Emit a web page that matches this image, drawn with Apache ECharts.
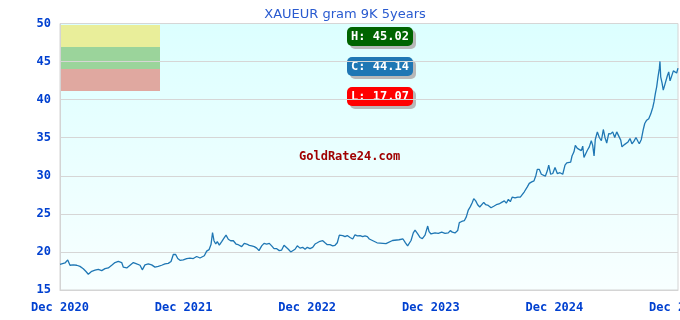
<!DOCTYPE html>
<html>
<head>
<meta charset="utf-8">
<script src="https://cdn.jsdelivr.net/npm/echarts@6/dist/echarts.min.js"></script>
<style>html,body{margin:0;padding:0;background:#fff}#c{width:680px;height:320px}</style>
</head>
<body>
<div id="c"></div>
<script>
const chartTitle = 'XAUEUR gram 9K 5years';
const tickLabels = ['Dec 2020', 'Dec 2021', 'Dec 2022', 'Dec 2023', 'Dec 2024', 'Dec 2025'];
// months elapsed since Dec 2020
const months = [
 0.00,0.49,0.75,0.97,1.29,1.62,1.94,2.26,2.50,2.75,3.08,3.40,3.72,4.05,4.37,4.69,5.02,5.34,5.66,5.99,
 6.15,6.48,6.80,7.12,7.45,7.77,7.99,8.25,8.57,8.90,9.22,9.54,9.87,10.19,10.51,10.78,11.00,11.23,11.43,11.65,
 11.97,12.30,12.62,12.94,13.27,13.59,13.76,14.01,14.24,14.47,14.66,14.81,14.95,15.12,15.27,15.47,15.70,15.92,16.12,16.34,
 16.57,16.83,17.09,17.31,17.64,17.89,18.13,18.38,18.61,18.86,19.10,19.32,19.58,19.81,20.07,20.32,20.55,20.78,21.04,21.29,
 21.52,21.75,21.94,22.17,22.40,22.59,22.82,23.04,23.30,23.56,23.79,24.01,24.27,24.53,24.76,24.98,25.24,25.51,25.73,25.95,
 26.21,26.48,26.70,26.92,27.12,27.25,27.45,27.67,27.89,28.16,28.42,28.64,28.87,29.13,29.39,29.61,29.84,30.03,30.78,31.65,
 32.28,32.91,33.30,33.54,33.75,34.08,34.30,34.47,34.73,34.95,35.18,35.44,35.70,35.83,36.02,36.41,36.73,37.06,37.38,37.70,
 37.89,38.09,38.35,38.61,38.77,39.00,39.25,39.45,39.64,39.84,40.03,40.17,40.36,40.55,40.75,40.94,41.14,41.33,41.58,41.85,
 42.11,42.36,42.62,42.88,43.14,43.33,43.53,43.72,43.91,44.18,44.44,44.69,44.88,45.08,45.37,45.56,45.80,46.02,46.21,46.34,
 46.54,46.73,46.92,47.12,47.31,47.45,47.64,47.84,48.06,48.28,48.54,48.81,49.03,49.20,49.39,49.58,49.71,49.90,50.03,50.23,
 50.42,50.61,50.75,50.87,51.00,51.20,51.39,51.58,51.72,51.85,51.97,52.17,52.36,52.56,52.75,52.91,53.08,53.27,53.47,53.66,
 53.86,54.05,54.24,54.44,54.56,54.76,54.95,55.15,55.34,55.53,55.73,55.92,56.12,56.24,56.44,56.63,56.77,56.96,57.16,57.35,
 57.55,57.67,57.80,57.93,58.06,58.19,58.25,58.32,58.45,58.57,58.71,58.84,58.96,59.10,59.23,59.39,59.55,59.71,59.87,60.00
];
// price in EUR per gram
const prices = [
 18.38,18.55,18.95,18.25,18.30,18.25,18.10,17.80,17.46,17.07,17.46,17.60,17.72,17.55,17.80,17.90,18.25,18.60,18.75,18.60,
 18.00,17.90,18.25,18.60,18.42,18.25,17.65,18.30,18.42,18.30,18.00,18.10,18.25,18.42,18.50,18.75,19.66,19.66,19.13,18.90,
 18.95,19.13,19.20,19.13,19.40,19.20,18.95,19.50,20.10,20.30,20.97,22.55,21.47,21.04,21.35,20.90,21.35,21.80,22.20,21.66,
 21.47,21.47,21.04,20.95,20.70,21.13,21.04,20.87,20.80,20.70,20.50,20.17,20.80,21.13,21.04,21.13,20.80,20.43,20.43,20.17,
 20.25,20.87,20.95,20.35,20.00,19.90,20.35,20.80,20.50,20.60,20.35,20.60,20.43,20.60,21.04,21.20,21.40,21.47,21.20,20.95,
 20.95,20.80,20.87,21.20,22.20,22.00,22.15,22.00,22.15,21.90,21.70,22.25,22.10,22.15,22.00,22.10,22.00,21.70,21.20,21.10,
 21.50,21.60,21.70,21.20,20.80,21.50,22.50,22.85,22.36,21.90,21.75,22.20,23.40,22.66,22.36,22.50,22.45,22.60,22.45,22.50,
 22.80,22.60,22.50,22.80,23.85,24.00,24.10,24.60,25.50,25.95,26.50,27.00,26.70,26.20,25.90,26.10,26.50,26.20,26.10,25.80,
 26.00,26.20,26.30,26.50,26.70,26.40,26.90,26.60,27.20,27.10,27.20,27.20,27.45,27.90,28.55,29.00,29.20,29.33,30.08,30.83,
 30.83,30.20,30.20,29.95,30.65,31.40,30.20,30.30,31.10,30.30,30.40,30.20,31.40,31.70,31.80,31.80,32.60,33.15,34.00,33.60,
 33.70,33.30,33.90,32.40,32.15,33.35,33.80,34.60,34.00,32.60,34.77,35.77,35.03,34.60,36.08,35.03,34.30,35.55,35.50,35.77,
 35.03,35.77,35.60,34.68,33.80,34.06,34.10,34.45,34.90,34.20,34.55,35.03,34.50,34.20,34.77,36.08,36.87,37.30,37.50,38.10,
 38.97,39.70,40.80,41.68,43.00,44.10,45.02,43.00,42.20,41.25,41.90,41.68,43.10,43.65,42.47,42.60,43.78,43.78,43.50,44.14
];
const watermark = 'GoldRate24.com';

const hi = Math.max(...prices);
const lo = Math.min(...prices);
const cur = prices[prices.length - 1];

const chart = echarts.init(document.getElementById('c'), null, {renderer: 'canvas'});
const mono = '"DejaVu Sans Mono", monospace';

function badge(label, val, top, color) {
  return {
    type: 'group', left: 347, top: top,
    children: [
      {type: 'rect', shape: {x: 3, y: 3, width: 66, height: 19, r: 5}, style: {fill: '#b8b8b8'}},
      {type: 'rect', shape: {x: 0, y: 0, width: 66, height: 19, r: 5}, style: {fill: color}},
      {type: 'text', x: 33, y: 10, style: {text: label + ': ' + val.toFixed(2), fill: '#fff',
        font: 'bold 12px ' + mono, align: 'center', verticalAlign: 'middle'}}
    ]
  };
}

chart.setOption({
  animation: false,
  backgroundColor: '#ffffff',
  title: {
    text: chartTitle, left: 340, top: 3, textAlign: 'center',
    textStyle: {color: '#2a5bd0', fontSize: 13, fontWeight: 'normal', fontFamily: '"DejaVu Sans", sans-serif'}
  },
  grid: {
    left: 60, right: 2, top: 23.5, bottom: 30, show: true,
    containLabel: false, outerBoundsMode: 'none',
    borderColor: '#d4d4d4', borderWidth: 1,
    backgroundColor: new echarts.graphic.LinearGradient(0, 0, 0, 1, [
      {offset: 0, color: '#dcffff'}, {offset: 1, color: '#f8ffff'}
    ])
  },
  xAxis: {
    type: 'value', min: 0, max: 60, interval: 12,
    axisLine: {show: true, lineStyle: {color: '#d4d4d4'}},
    axisTick: {show: false},
    splitLine: {show: false},
    axisLabel: {
      color: '#0040d0', fontFamily: mono, fontWeight: 'bold', fontSize: 12, margin: 12,
      hideOverlap: false,
      formatter: v => tickLabels[Math.round(v / 12)] || ''
    }
  },
  yAxis: {
    type: 'value', min: 15, max: 50, interval: 5,
    axisLine: {show: true, lineStyle: {color: '#d4d4d4'}},
    axisTick: {show: false},
    splitLine: {show: true, lineStyle: {color: '#d6d6d6', width: 1}},
    axisLabel: {color: '#0040d0', fontFamily: mono, fontWeight: 'bold', fontSize: 12, margin: 9}
  },
  series: [{
    type: 'line',
    data: months.map((m, i) => [m, prices[i]]),
    showSymbol: false,
    lineStyle: {color: '#1f77b4', width: 1.3},
    silent: true
  }],
  graphic: [
    {type: 'rect', left: 60.5, top: 25, shape: {width: 99.5, height: 22}, style: {fill: '#e9ee9a'}},
    {type: 'rect', left: 60.5, top: 47, shape: {width: 99.5, height: 22}, style: {fill: '#9bd49b'}},
    {type: 'rect', left: 60.5, top: 69, shape: {width: 99.5, height: 22}, style: {fill: '#e0a8a0'}},
    badge('H', hi, 27, '#006400'),
    badge('C', cur, 57, '#1f77b4'),
    badge('L', lo, 87, '#ff0000'),
    {type: 'text', left: 299, top: 151, style: {text: watermark, fill: '#a00000', font: 'bold 12px ' + mono}}
  ]
});
</script>
</body>
</html>
